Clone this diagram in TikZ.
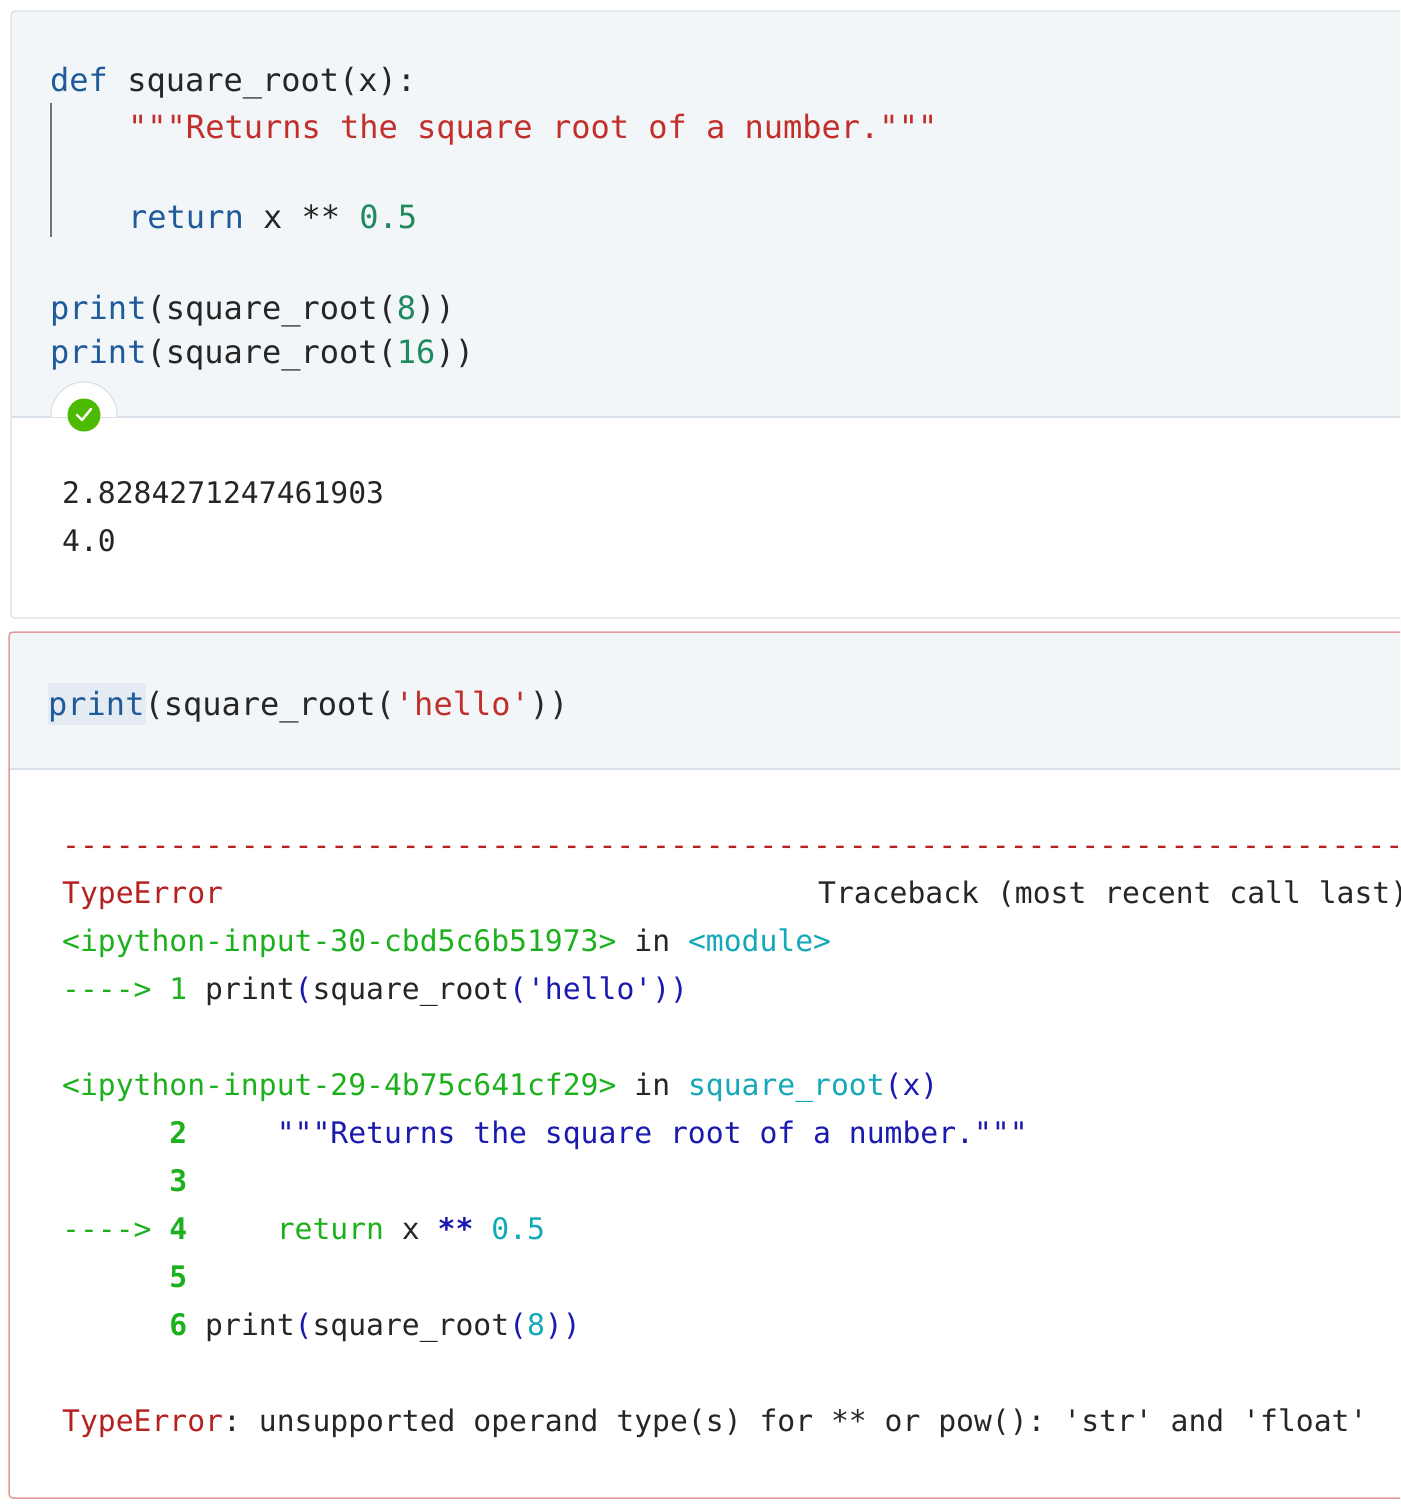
\documentclass[tikz,border=0pt]{standalone}
\usepackage{fontspec}
\newfontfamily\cfont{DejaVu Sans Mono}[WordSpace={1,0,0},PunctuationSpace=WordSpace]
\definecolor{kw}{HTML}{1F5B9B}
\definecolor{str}{HTML}{C22F2A}
\definecolor{num}{HTML}{1E8A5E}
\definecolor{cellbg}{HTML}{F3F6F9}
\definecolor{cellline}{HTML}{D9E0E8}
\definecolor{errred}{HTML}{B52020}
\definecolor{tgreen}{HTML}{1DB01D}
\definecolor{tcyan}{HTML}{14A8B8}
\definecolor{tblue}{HTML}{1A1AB0}
\definecolor{errborder}{HTML}{E59A9A}
\newcommand\kwc[1]{\textcolor{kw}{#1}}
\newcommand\stc[1]{\textcolor{str}{#1}}
\newcommand\nuc[1]{\textcolor{num}{#1}}
\newcommand\er[1]{\textcolor{errred}{#1}}
\newcommand\gr[1]{\textcolor{tgreen}{#1}}
\newcommand\gb[1]{\textcolor{tgreen}{\bfseries #1}}
\newcommand\cy[1]{\textcolor{tcyan}{#1}}
\newcommand\bl[1]{\textcolor{tblue}{#1}}
\tikzset{code/.style={anchor=base west,inner sep=0pt,font=\cfont\fontsize{32}{36}\selectfont,text=black!85},
outtext/.style={anchor=base west,inner sep=0pt,font=\cfont\fontsize{29.7}{34}\selectfont,text=black!85}}
\begin{document}
\begin{tikzpicture}[x=1pt,y=-1pt]
\useasboundingbox (0,0) rectangle (1400,1506);
\begin{scope}
\clip (0,0) rectangle (1400,1506);
% cell 1
\fill[cellbg] (11,11) rectangle (1420,417);
\draw[cellline,line width=1.2pt] (11,417) -- (1420,417);
\draw[cellline,line width=1.2pt,rounded corners=4pt] (1420,618) -- (11,618) -- (11,11) -- (1420,11);
\draw[black!55,line width=1.5pt] (51,103) -- (51,237);
\node[code] (l1) at (50,92) {\kwc{def} square\_root(x):};
\node[code] (l2) at (128,139) {\stc{"""Returns the square root of a number."""}};
\node[code] (l3) at (128,229) {\kwc{return} x ** \nuc{0.5}};
\node[code] (l4) at (50,319) {\kwc{print}(square\_root(\nuc{8}))};
\node[code] (l5) at (50,363) {\kwc{print}(square\_root(\nuc{16}))};
\begin{scope}
\clip (0,0) rectangle (200,416.4);
\draw[cellline,fill=white,line width=1.2pt] (84,415) circle (33);
\end{scope}
\fill[white] (50,418) rectangle (118,449);
\fill[green!55!black!60!lime] (84,415) circle (16.5);
\draw[white,line width=2.4pt,line cap=round,line join=round] (77,415) -- (82,420) -- (91,409);
\node[outtext] (o1) at (62,503) {2.8284271247461903};
\node[outtext] (o2) at (62,551) {4.0};
% cell 2
\fill[cellbg] (9,632) rectangle (1420,769);
\draw[cellline,line width=1.2pt] (9,769) -- (1420,769);
\draw[errborder,line width=1.5pt,rounded corners=4pt] (1420,1498) -- (9,1498) -- (9,632) -- (1420,632);
\fill[kw!12] (48,683) rectangle (146,725);
\node[code] (c1) at (48,715) {\kwc{print}(square\_root(\stc{'hello'}))};
\node[outtext] (t0) at (62,855) {\er{--------------------------------------------------------------------------------}};
\node[outtext] (t1) at (62,903) {\er{TypeError}};
\node[outtext] (t1b) at (818,903) {Traceback (most recent call last)};
\node[outtext] (t2) at (62,951) {\gr{<ipython-input-30-cbd5c6b51973>} in \cy{<module>}};
\node[outtext] (t3) at (62,999) {\gr{----> 1} print\bl{(}square\_root\bl{('hello'))}};
\node[outtext] (t4) at (62,1095) {\gr{<ipython-input-29-4b75c641cf29>} in \cy{square\_root}\bl{(x)}};
\node[outtext] (t5) at (62,1143) {~~~~~~\gb{2}~~~~~\bl{"""Returns the square root of a number."""}};
\node[outtext] (t6) at (62,1191) {~~~~~~\gb{3}};
\node[outtext] (t7) at (62,1239) {\gr{---->} \gb{4}~~~~~\gr{return} x \bl{\bfseries **} \cy{0.5}};
\node[outtext] (t8) at (62,1287) {~~~~~~\gb{5}};
\node[outtext] (t9) at (62,1335) {~~~~~~\gb{6} print\bl{(}square\_root\bl{(}\cy{8}\bl{))}};
\node[outtext] (t10) at (62,1431) {\er{TypeError}: unsupported operand type(s) for ** or pow(): 'str' and 'float'};
\end{scope}
\end{tikzpicture}
\end{document}
